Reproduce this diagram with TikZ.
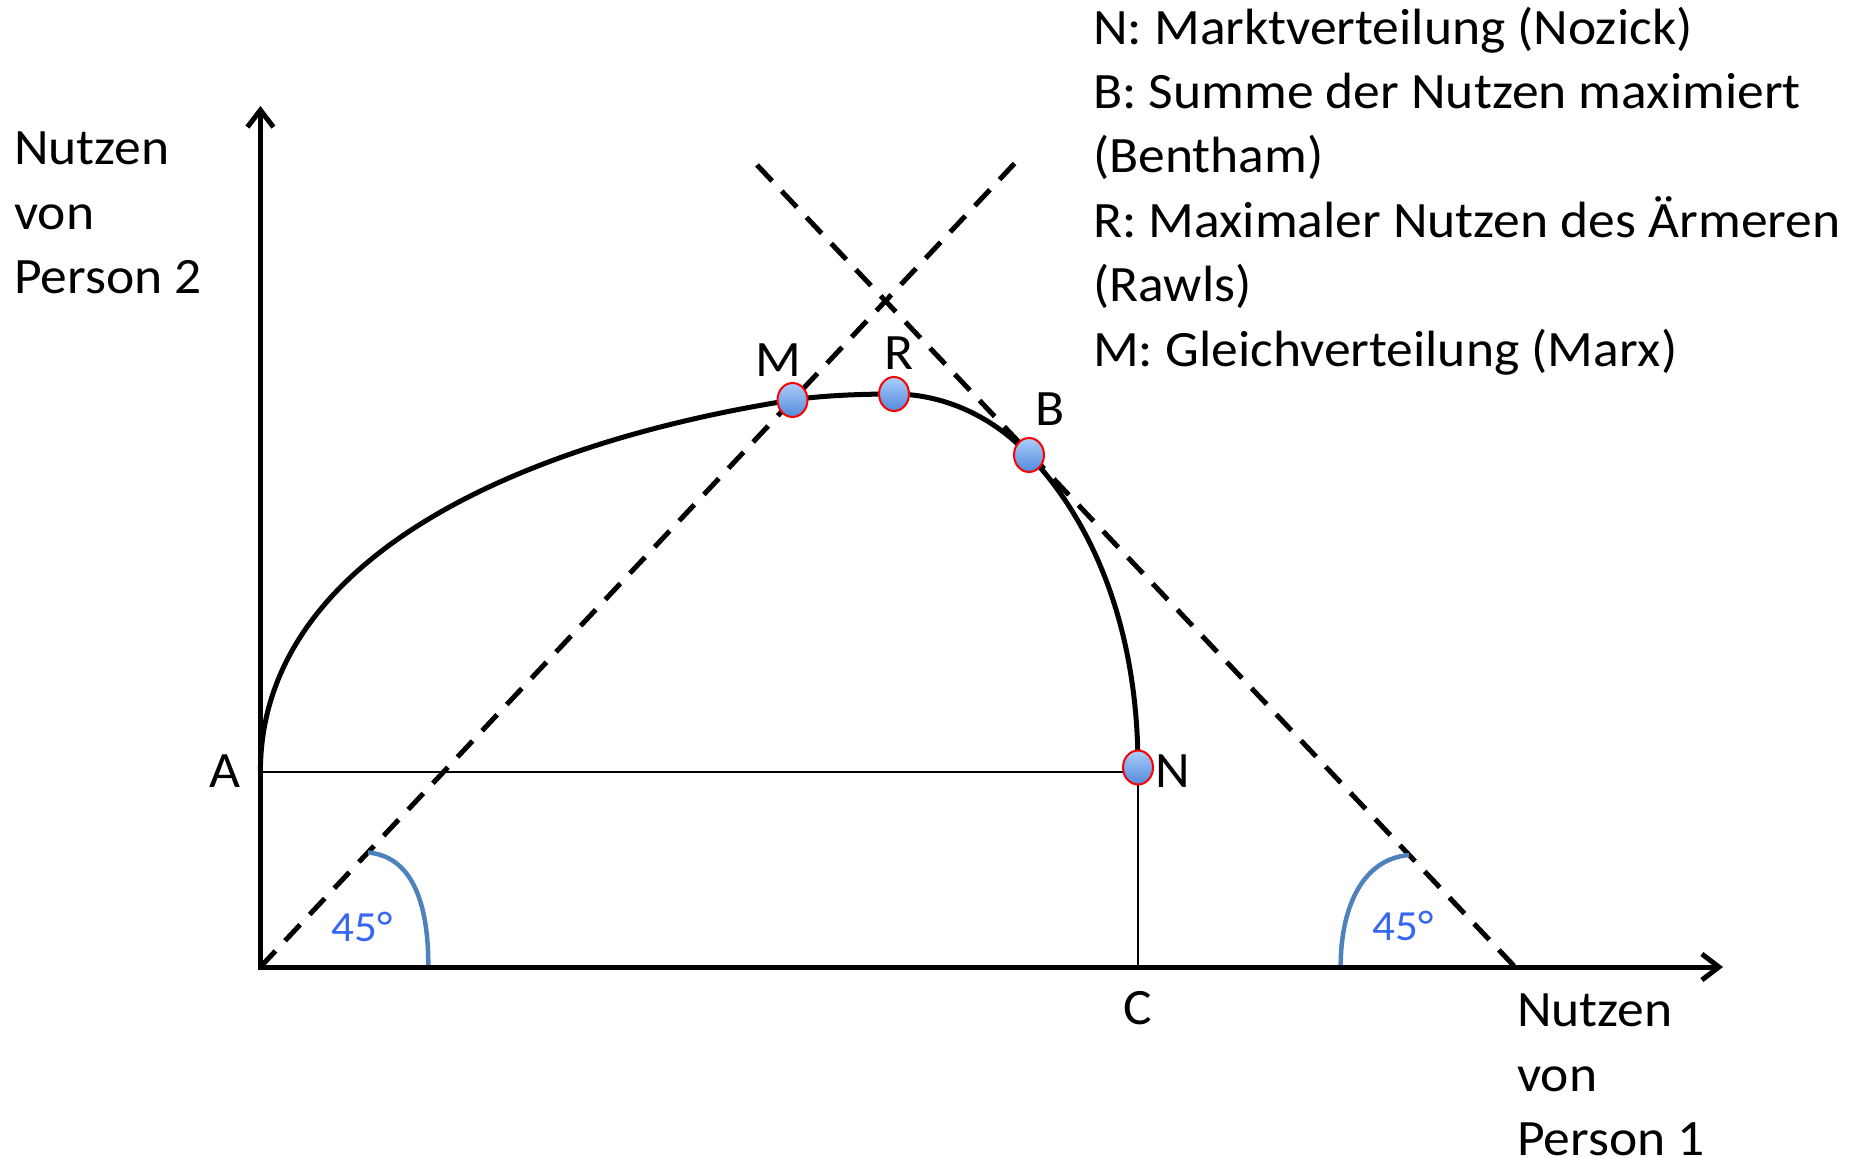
\documentclass[tikz,border=0pt]{standalone}
\usepackage{fontspec}
\setmainfont{Carlito}[FakeStretch=1.05]
\usetikzlibrary{arrows.meta,shapes.geometric}
\definecolor{arcblue}{RGB}{79,129,189}
\definecolor{txtblue}{RGB}{55,102,240}
\definecolor{ptlight}{RGB}{172,206,250}
\definecolor{ptdark}{RGB}{82,138,220}
\begin{document}
\begin{tikzpicture}[x=1pt,y=-1pt,
  axisline/.style={line width=5pt, line join=miter},
  dashline/.style={line width=5pt, dash pattern=on 22pt off 14pt},
  thinline/.style={line width=2pt},
  curveline/.style={line width=5pt},
  arcline/.style={draw=arcblue, line width=4.5pt},
  ptmark/.style={ellipse, draw=red, line width=2pt, top color=ptlight, bottom color=ptdark, minimum width=30pt, minimum height=34pt, inner sep=0pt},
  lbl/.style={font=\fontsize{51}{64.5}\selectfont, inner sep=0pt},
  ang/.style={font=\fontsize{43}{50}\selectfont, text=txtblue, inner sep=0pt}
]
\useasboundingbox (0,0) rectangle (1856,1158);

% key coordinates
\coordinate (O) at (260.4,967);
\coordinate (ytip) at (260.4,106);
\coordinate (xtip) at (1723,967);
\coordinate (A0) at (260.4,771.7);
\coordinate (d1e) at (1015,163);
\coordinate (d2s) at (757,165);
\coordinate (d2e) at (1515,967);
\coordinate (arcLs) at (368,852.5);
\coordinate (arcLe) at (428.3,965);
\coordinate (arcRs) at (1409,855);
\coordinate (arcRe) at (1340.7,965);

% point positions
\coordinate (pM) at (792.5,400);
\coordinate (pR) at (894,394);
\coordinate (pB) at (1029,455);
\coordinate (pN) at (1138,767.5);

% dashed 45 degree lines
\draw[dashline] (O) -- (d1e);
\draw[dashline] (d2s) -- (d2e);

% thin lines
\draw[thinline] (A0) -- (A0 -| pN);
\draw[thinline] (pN) -- (pN |- O);

% frontier curve
\draw[curveline] (A0) .. controls +(0,-208) and +(-285,44.7) .. (pM)
  .. controls +(30,-4.7) and +(-30,0) .. (pR)
  .. controls +(45,0) and +(-40,-42.3) .. (pB)
  .. controls +(70,74) and +(0,-130) .. (pN);

% axes
\draw[axisline, {Straight Barb[length=17pt,width=26pt]}-{Straight Barb[length=17pt,width=26pt]}] (ytip) -- (O) -- (xtip);

% 45 degree arcs
\draw[arcline] (arcLs) to[out=-5,in=90] (arcLe);
\draw[arcline] (arcRs) to[out=185,in=90] (arcRe);

% point markers
\node[ptmark] (M) at (pM) {};
\node[ptmark] (R) at (pR) {};
\node[ptmark] (B) at (pB) {};
\node[ptmark] (N) at (pN) {};

% labels
\node[lbl, anchor=base] (labA) at (225,787) {A};
\node[lbl, anchor=base] (labN) at (1172.5,787) {N};
\node[lbl, anchor=base] (labC) at (1137.5,1024) {C};
\node[lbl, anchor=base] (labM) at (778,376.7) {M};
\node[lbl, anchor=base] (labR) at (899,370) {R};
\node[lbl, anchor=base] (labB) at (1050,425) {B};
\node[ang, anchor=base] (angL) at (362,941.7) {45°};
\node[ang, anchor=base] (angR) at (1403,940) {45°};

% multi-line nodes: base anchor = baseline of last line
\node[lbl, anchor=base west, align=left] (ylab) at (14,294) {Nutzen\\von\\Person 2};
\node[lbl, anchor=base west, align=left] (xlab) at (1517,1155.7) {Nutzen\\von\\Person 1};
\node[lbl, anchor=base west, align=left] (legend) at (1093,366.5) {N: Marktverteilung (Nozick)\\B: Summe der Nutzen maximiert\\(Bentham)\\R: Maximaler Nutzen des Ärmeren\\(Rawls)\\M: Gleichverteilung (Marx)};
\end{tikzpicture}
\end{document}
